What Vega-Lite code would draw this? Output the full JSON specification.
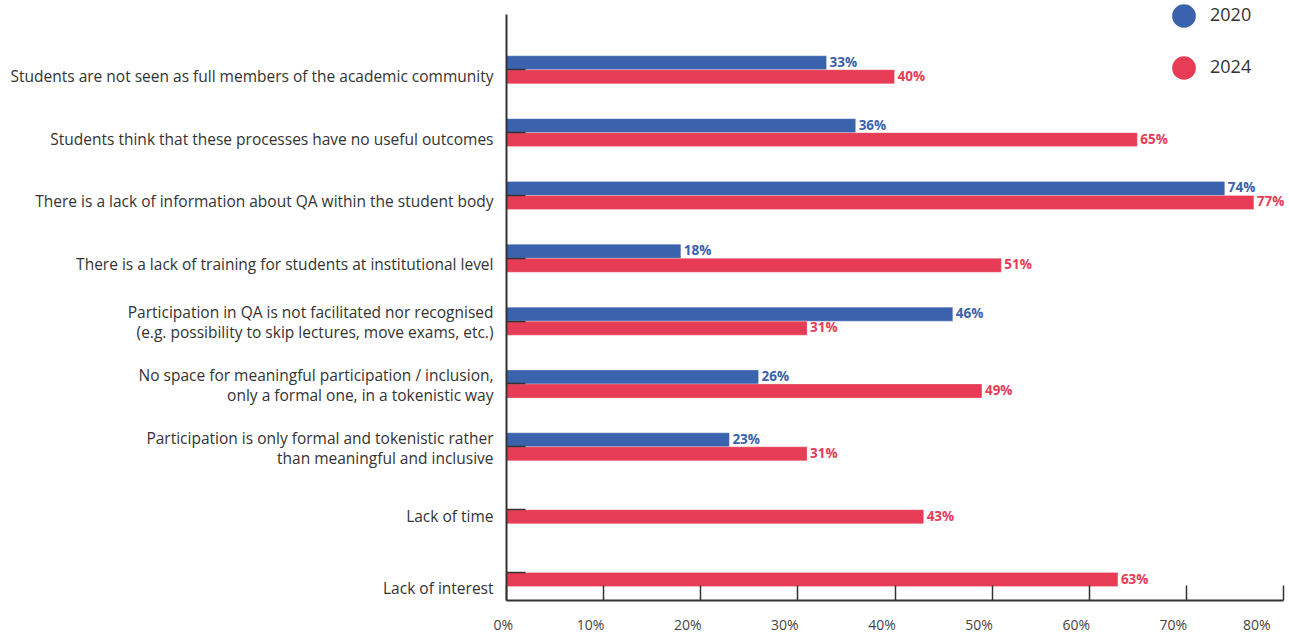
{
  "$schema": "https://vega.github.io/schema/vega-lite/v6.json",
  "width": 777,
  "height": 586,
  "autosize": {"type": "none"},
  "padding": {"left": 506, "top": 14, "right": 6, "bottom": 35},
  "background": "white",
  "config": {"view": {"stroke": null}, "font": "Open Sans"},
  "data": {
    "values": [
      {"reason": "Students are not seen as full members of the academic community", "year": "2020", "value": 0.33},
      {"reason": "Students are not seen as full members of the academic community", "year": "2024", "value": 0.40},
      {"reason": "Students think that these processes have no useful outcomes", "year": "2020", "value": 0.36},
      {"reason": "Students think that these processes have no useful outcomes", "year": "2024", "value": 0.65},
      {"reason": "There is a lack of information about QA within the student body", "year": "2020", "value": 0.74},
      {"reason": "There is a lack of information about QA within the student body", "year": "2024", "value": 0.77},
      {"reason": "There is a lack of training for students at institutional level", "year": "2020", "value": 0.18},
      {"reason": "There is a lack of training for students at institutional level", "year": "2024", "value": 0.51},
      {"reason": "Participation in QA is not facilitated nor recognised|(e.g. possibility to skip lectures, move exams, etc.)", "year": "2020", "value": 0.46},
      {"reason": "Participation in QA is not facilitated nor recognised|(e.g. possibility to skip lectures, move exams, etc.)", "year": "2024", "value": 0.31},
      {"reason": "No space for meaningful participation / inclusion,|only a formal one, in a tokenistic way", "year": "2020", "value": 0.26},
      {"reason": "No space for meaningful participation / inclusion,|only a formal one, in a tokenistic way", "year": "2024", "value": 0.49},
      {"reason": "Participation is only formal and tokenistic rather|than meaningful and inclusive", "year": "2020", "value": 0.23},
      {"reason": "Participation is only formal and tokenistic rather|than meaningful and inclusive", "year": "2024", "value": 0.31},
      {"reason": "Lack of time", "year": "2024", "value": 0.43},
      {"reason": "Lack of interest", "year": "2024", "value": 0.63}
    ]
  },
  "encoding": {
    "y": {
      "field": "reason",
      "type": "nominal",
      "sort": null,
      "title": null,
      "scale": {"paddingInner": 0.555, "paddingOuter": 0.44, "align": 0.756},
      "axis": {
        "labelExpr": "split(datum.label, '|')",
        "labelLimit": 600,
        "labelFontSize": 15.5,
        "labelColor": "#333333",
        "labelOffset": {
          "condition": [
            {"test": "indexof(datum.value, '|') >= 0", "value": -8},
            {"test": "datum.value === 'Lack of interest'", "value": 16}
          ],
          "value": 7
        },
        "labelBaseline": "middle",
        "labelPadding": 32,
        "labelLineHeight": 20,
        "tickSize": -19,
        "tickColor": "#333333",
        "tickWidth": 1.5,
        "domainColor": "#333333",
        "domainWidth": 2,
        "zindex": 2
      }
    },
    "yOffset": {"field": "year", "type": "nominal", "scale": {"domain": ["2020", "2024"]}},
    "x": {
      "field": "value",
      "type": "quantitative",
      "title": null,
      "scale": {"domain": [0, 0.8], "nice": false},
      "axis": {
        "values": [0, 0.1, 0.2, 0.3, 0.4, 0.5, 0.6, 0.7, 0.8],
        "format": ".0%",
        "labelFontSize": 14,
        "labelColor": "#444444",
        "labelOffset": -13,
        "labelPadding": 33,
        "tickSize": -15,
        "tickColor": "#333333",
        "tickWidth": 1.5,
        "domainColor": "#333333",
        "domainWidth": 2,
        "grid": false,
        "zindex": 2
      }
    },
    "color": {
      "field": "year",
      "type": "nominal",
      "scale": {"domain": ["2020", "2024"], "range": ["#3a62ad", "#e63c55"]},
      "legend": {
        "title": null,
        "orient": "none",
        "legendX": 666,
        "legendY": -10,
        "symbolType": "circle",
        "symbolSize": 560,
        "symbolStrokeWidth": 0,
        "labelFontSize": 18,
        "labelColor": "#333333",
        "labelOffset": 14,
        "rowPadding": 28
      }
    }
  },
  "layer": [
    {"mark": {"type": "bar", "stroke": "white", "strokeWidth": 0.5, "strokeOpacity": 0.5}},
    {
      "mark": {"type": "text", "align": "left", "baseline": "middle", "dx": 3, "fontWeight": "bold", "fontSize": 13.5},
      "encoding": {
        "text": {"field": "value", "type": "quantitative", "format": ".0%"},
        "color": {"field": "year", "type": "nominal", "scale": {"domain": ["2020", "2024"], "range": ["#3a62ad", "#e63c55"]}, "legend": null}
      }
    }
  ]
}
